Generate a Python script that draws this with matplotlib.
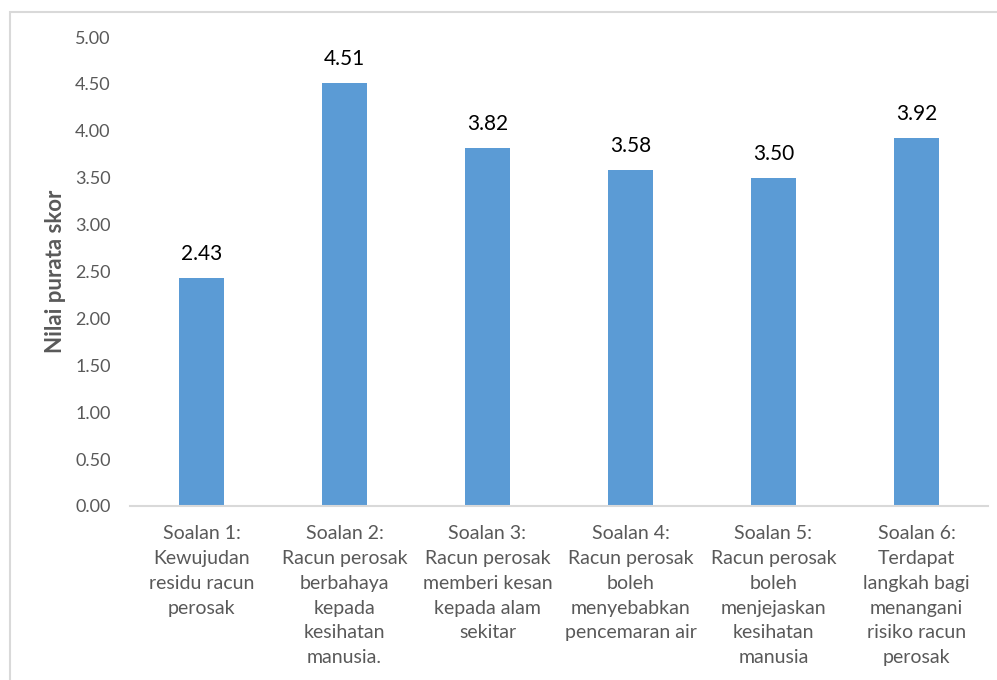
import matplotlib
matplotlib.use("Agg")
import matplotlib.pyplot as plt
from matplotlib.patches import Rectangle

categories = [
    "Soalan 1:\nKewujudan\nresidu racun\nperosak",
    "Soalan 2:\nRacun perosak\nberbahaya\nkepada\nkesihatan\nmanusia.",
    "Soalan 3:\nRacun perosak\nmemberi kesan\nkepada alam\nsekitar",
    "Soalan 4:\nRacun perosak\nboleh\nmenyebabkan\npencemaran air",
    "Soalan 5:\nRacun perosak\nboleh\nmenjejaskan\nkesihatan\nmanusia",
    "Soalan 6:\nTerdapat\nlangkah bagi\nmenangani\nrisiko racun\nperosak",
]
values = [2.43, 4.51, 3.82, 3.58, 3.50, 3.92]
yticks = [0, 0.5, 1.0, 1.5, 2.0, 2.5, 3.0, 3.5, 4.0, 4.5, 5.0]

plt.rcParams['font.family'] = ['Lato', 'DejaVu Sans']

fig = plt.figure(figsize=(9.97, 6.8), dpi=100)
ax = fig.add_axes([130/997, 1-506/680, (988-130)/997, (506-37)/680])

x = list(range(len(categories)))
bars = ax.bar(x, values, width=0.31, color="#5B9BD5", zorder=2)
for xi, v in zip(x, values):
    ax.text(xi, v + 0.15, f"{v:.2f}", ha="center", va="bottom", fontsize=15, color="black")

ax.set_xlim(-0.5, len(categories) - 0.5)
ax.set_ylim(0, 5.0)
ax.set_yticks(yticks)
ax.set_yticklabels([f"{t:.2f}" for t in yticks])
ax.set_xticks(x)
ax.set_xticklabels(categories, linespacing=1.55, fontsize=14)
ax.tick_params(axis="y", length=0, labelsize=13, colors="#595959", pad=14)
ax.tick_params(axis="x", length=0, colors="#595959", pad=14)
for s in ["top", "right", "left"]:
    ax.spines[s].set_visible(False)
ax.spines["bottom"].set_color("#D9D9D9")
ax.spines["bottom"].set_linewidth(1.5)
ax.set_ylabel("Nilai purata skor", fontsize=16, color="#595959", fontweight="bold")
ax.yaxis.set_label_coords((55 - 130) / 858, 0.5)
ax.yaxis.label.set_verticalalignment("center")

fig.patches.append(Rectangle((10/997, -0.1), 1.2, 1 - 12/680 + 0.1, transform=fig.transFigure,
                             fill=False, edgecolor="#D9D9D9", linewidth=1.5))

fig.savefig("out.png", dpi=100)
